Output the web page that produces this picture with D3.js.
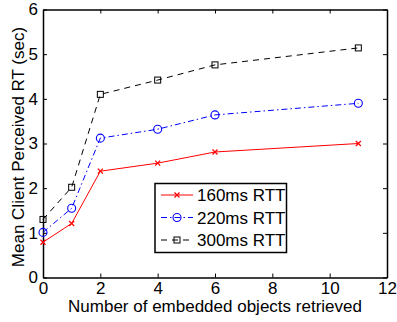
<!DOCTYPE html>
<html>
<head>
<meta charset="utf-8">
<script src="https://cdn.jsdelivr.net/npm/d3@7"></script>
<style>
body { margin: 0; background: #fff; }
svg text { font-family: Arial, "Liberation Sans", sans-serif; fill: #000; }
</style>
</head>
<body>
<svg width="397" height="322"></svg>
<script>
// objects retrieved
var xs = [0, 1, 2, 4, 6, 11];
var rtt160 = [0.79, 1.21, 2.38, 2.56, 2.81, 3.0];
var rtt220 = [1.01, 1.55, 3.12, 3.32, 3.64, 3.9];
var rtt300 = [1.3, 2.02, 4.1, 4.42, 4.76, 5.14];
var seriesNames = ["160ms RTT", "220ms RTT", "300ms RTT"];
var xTicks = [0, 2, 4, 6, 8, 10, 12];
var yTicks = [0, 1, 2, 3, 4, 5, 6];

var svg = d3.select("svg");
// note: "top" is taken by window.top
var plotLeft = 43, plotRight = 387, plotTop = 9.5, plotBottom = 277.5;
var fs = "17px";

var x = d3.scaleLinear().domain([0, 12]).range([plotLeft, plotRight]);
var y = d3.scaleLinear().domain([0, 6]).range([plotBottom, plotTop]);

var series = [
    {name: seriesNames[0], vals: rtt160, color: "#ff0000", dash: null, marker: "x"},
    {name: seriesNames[1], vals: rtt220, color: "#0000ff", dash: "6,3,1.5,3", marker: "o"},
    {name: seriesNames[2], vals: rtt300, color: "#000000", dash: "6,5", marker: "s"}
];

// axes, ticks inside like matlab
var xAxis = svg.append("g").attr("transform", "translate(0," + plotBottom + ")")
    .call(d3.axisBottom(x).tickValues(xTicks).tickSizeInner(-4).tickSizeOuter(0).tickPadding(4).tickFormat(d3.format("d")));
var yAxis = svg.append("g").attr("transform", "translate(" + plotLeft + ",0)")
    .call(d3.axisLeft(y).tickValues(yTicks).tickSizeInner(-4).tickSizeOuter(0).tickPadding(5).tickFormat(d3.format("d")));
var xTop = svg.append("g").attr("transform", "translate(0," + plotTop + ")")
    .call(d3.axisTop(x).tickValues(xTicks).tickSizeInner(-4).tickSizeOuter(0).tickFormat(""));
var yRight = svg.append("g").attr("transform", "translate(" + plotRight + ",0)")
    .call(d3.axisRight(y).tickValues(yTicks).tickSizeInner(-4).tickSizeOuter(0).tickFormat(""));

[xAxis, yAxis, xTop, yRight].forEach(function(g) {
    g.select(".domain").attr("stroke", "#000").attr("stroke-width", 1.5);
    g.selectAll(".tick line").attr("stroke", "#000");
    g.selectAll(".tick text").style("font-size", fs).attr("font-family", "Arial, 'Liberation Sans', sans-serif");
});

// lines
var line = d3.line().x(function(d, i) { return x(xs[i]); }).y(function(d) { return y(d); });

function drawMarker(g, kind, cx, cy, color) {
    if (kind == "x") {
        g.append("path").attr("d", "M" + (cx - 2.5) + "," + (cy - 2.5) + "L" + (cx + 2.5) + "," + (cy + 2.5) +
            "M" + (cx - 2.5) + "," + (cy + 2.5) + "L" + (cx + 2.5) + "," + (cy - 2.5))
            .attr("stroke", color).attr("stroke-width", 1.2);
    } else if (kind == "o") {
        g.append("circle").attr("cx", cx).attr("cy", cy).attr("r", 4)
            .attr("fill", "none").attr("stroke", color).attr("stroke-width", 1.1);
    } else {
        g.append("rect").attr("x", cx - 3).attr("y", cy - 3).attr("width", 6).attr("height", 6)
            .attr("fill", "none").attr("stroke", color).attr("stroke-width", 1);
    }
}

series.forEach(function(s) {
    var g = svg.append("g");
    g.append("path").datum(s.vals)
        .attr("d", line)
        .attr("fill", "none")
        .attr("stroke", s.color)
        .attr("stroke-width", 1)
        .attr("stroke-dasharray", s.dash);
    s.vals.forEach(function(v, i) {
        drawMarker(g, s.marker, x(xs[i]), y(v), s.color);
    });
});

// legend
var leg = svg.append("g");
leg.append("rect").attr("x", 155).attr("y", 183.5).attr("width", 131.5).attr("height", 69)
    .attr("fill", "#fff").attr("stroke", "#000").attr("stroke-width", 1.5);
series.forEach(function(s, i) {
    var ly = 195 + i * 22.5;
    leg.append("line").attr("x1", 161).attr("x2", 193).attr("y1", ly).attr("y2", ly)
        .attr("stroke", s.color).attr("stroke-width", 1).attr("stroke-dasharray", s.dash);
    drawMarker(leg, s.marker, 177, ly, s.color);
    leg.append("text").attr("x", 197).attr("y", ly + 6).style("font-size", fs).text(s.name);
});

// axis titles
svg.append("text").attr("x", (plotLeft + plotRight) / 2).attr("y", 311.5)
    .attr("text-anchor", "middle").style("font-size", fs)
    .text("Number of embedded objects retrieved");
svg.append("text").attr("transform", "translate(24,147) rotate(-90)")
    .attr("text-anchor", "middle").style("font-size", fs)
    .text("Mean Client Perceived RT (sec)");
</script>
</body>
</html>
